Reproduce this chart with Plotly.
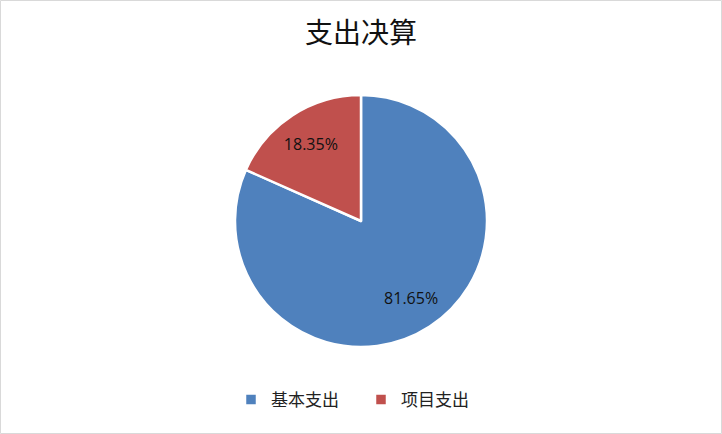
import plotly.graph_objects as go

categories = ["基本支出", "项目支出"]
shares = [81.65, 18.35]
slice_colors = ["#4F81BD", "#C0504D"]

W, H = 722, 434
ML, MR, MT, MB = 0, 0, 95, 87

pie_common = dict(
    labels=categories,
    values=shares,
    sort=False,
    direction="clockwise",
    rotation=0,
)

fig = go.Figure()
# the coloured pie itself
fig.add_trace(
    go.Pie(
        **pie_common,
        marker={"colors": slice_colors, "line": {"color": "white", "width": 2.5}},
        textinfo="none",
        hoverinfo="label+percent",
    )
)
# transparent ring on top, only to push the % labels out towards the rim
fig.add_trace(
    go.Pie(
        **pie_common,
        hole=0.46,
        marker={"colors": ["rgba(0,0,0,0)"] * len(categories), "line": {"width": 0}},
        texttemplate="%{value:.2f}%",
        textposition="inside",
        insidetextorientation="horizontal",
        textfont={"family": "Open Sans, Liberation Sans", "size": 16, "color": "#111111"},
        hoverinfo="skip",
        showlegend=False,
    )
)

fig.update_layout(
    width=W,
    height=H,
    margin={"l": ML, "r": MR, "t": MT, "b": MB, "pad": 0},
    paper_bgcolor="white",
    title={
        "text": "支出决算",
        "x": 0.5,
        "xanchor": "center",
        "y": 1 - 33 / H,
        "yanchor": "middle",
        "font": {"family": "Noto Sans CJK SC", "size": 28, "color": "#111111"},
    },
    legend={
        "orientation": "h",
        "x": 0.5,
        "xanchor": "center",
        "y": -(400 - (H - MB)) / (H - MT - MB),
        "yanchor": "middle",
        "font": {"family": "Noto Sans CJK SC", "size": 17, "color": "#222222"},
        "itemwidth": 30,
        "entrywidth": 85,
        "traceorder": "normal",
    },
    shapes=[
        {
            "type": "rect",
            "xref": "paper",
            "yref": "paper",
            "x0": 0.5 / W,
            "x1": 1 - 0.5 / W,
            "y0": -(MB - 0.5) / (H - MT - MB),
            "y1": 1 + (MT - 0.5) / (H - MT - MB),
            "line": {"color": "#D9D9D9", "width": 1},
        }
    ],
)

# page body has an 8px default margin; drop it so the chart sits at 0,0
fig.write_html(
    "out.html",
    config={"displayModeBar": False},
    post_script="document.body.style.margin='0';",
)
